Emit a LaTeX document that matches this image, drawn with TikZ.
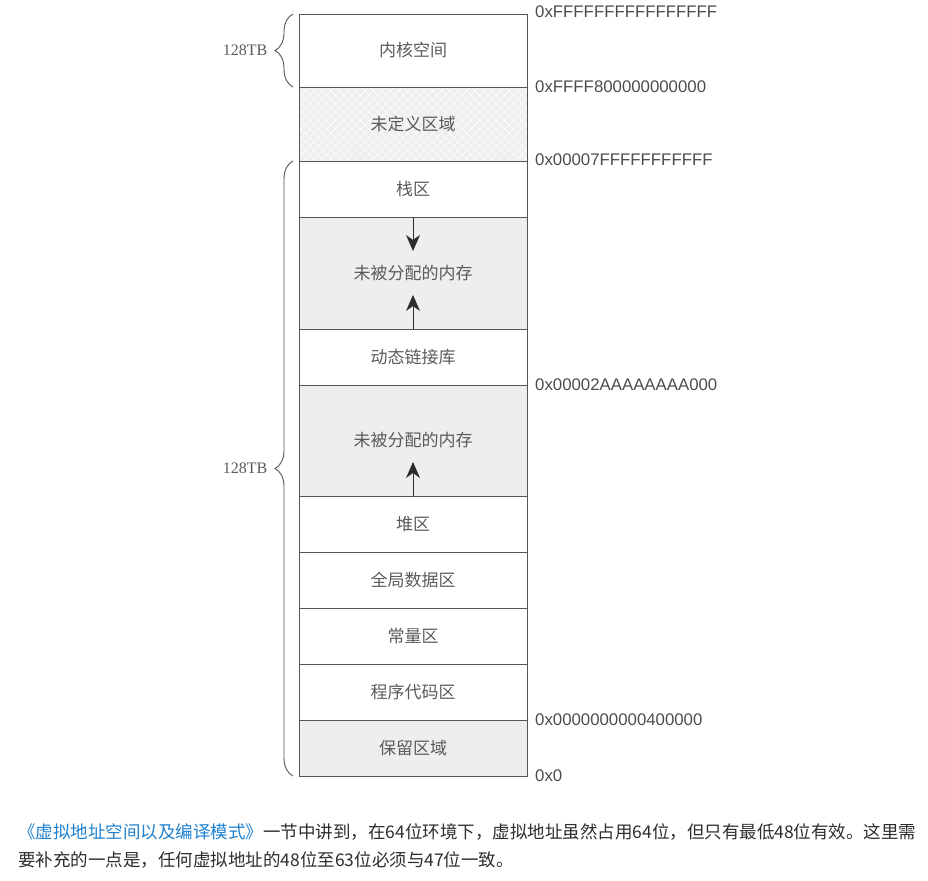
\documentclass[tikz,border=0pt]{standalone}
\usepackage{fontspec}
\setmainfont{Liberation Serif}
\setsansfont{Liberation Sans}
\newfontfamily\cjk{Noto Sans CJK SC}
\usetikzlibrary{positioning,arrows.meta,decorations.pathreplacing,patterns.meta}

\definecolor{linegray}{RGB}{85,85,85}
\definecolor{textgray}{RGB}{90,90,90}
\definecolor{freegray}{RGB}{238,238,238}
\definecolor{linkblue}{RGB}{30,128,205}
\definecolor{bodytext}{RGB}{45,45,45}

\tikzset{
  seg/.style={draw=linegray, line width=0.9pt, minimum width=228, minimum height=56,
    inner sep=0, outer sep=0, text=textgray, font=\cjk\fontsize{17}{20}\selectfont},
  freeseg/.style={seg, fill=freegray, minimum height=#1},
  addr/.style={anchor=west, text=bodytext!85, inner sep=0, font=\sffamily\fontsize{16.8}{18}\selectfont},
  sizelabel/.style={text=textgray, font=\fontsize{16}{18}\selectfont},
  spanbrace/.style={decorate, decoration={brace, amplitude=18pt, aspect=#1}, draw=linegray, line width=0.9pt},
  growarrow/.style={-{Stealth[length=16pt,width=14pt,inset=5pt]}, draw=bodytext, line width=0.9pt}
}

\begin{document}
\begin{tikzpicture}[x=1pt,y=-1pt]
\useasboundingbox (0,0) rectangle (928,880);

% memory column, top to bottom
\node[seg, minimum height=73, anchor=north west] (kernel) at (299,14) {内核空间};
\node[seg, minimum height=74, below=0pt of kernel] (undef) {};
\fill[freegray] (undef.north west) rectangle (undef.south east);
\fill[pattern={Lines[angle=45,distance=6pt,line width=0.5pt]}, pattern color=white] (undef.north west) rectangle (undef.south east);
\fill[pattern={Lines[angle=-45,distance=6pt,line width=0.5pt]}, pattern color=white] (undef.north west) rectangle (undef.south east);
\node[seg, minimum height=74, fill=none] at (undef) {未定义区域};
\node[seg, below=0pt of undef] (stack) {栈区};
\node[freeseg=112, below=0pt of stack] (free1) {未被分配的内存};
\node[seg, below=0pt of free1] (dll) {动态链接库};
\node[freeseg=111, below=0pt of dll] (free2) {未被分配的内存};
\node[seg, below=0pt of free2] (heap) {堆区};
\node[seg, below=0pt of heap] (data) {全局数据区};
\node[seg, below=0pt of data] (const) {常量区};
\node[seg, below=0pt of const] (code) {程序代码区};
\node[freeseg=56, below=0pt of code] (resv) {保留区域};

% growth arrows
\coordinate (stacktip) at ([yshift=-34]free1.north);
\coordinate (dlltip) at ([yshift=34]free1.south);
\coordinate (heaptip) at ([yshift=34]free2.south);
\draw[growarrow] (free1.north) -- (stacktip);
\draw[growarrow] (free1.south) -- (dlltip);
\draw[growarrow] (free2.south) -- (heaptip);

% addresses
\node[addr] (a1) at ([xshift=8,yshift=2]kernel.north east) {0xFFFFFFFFFFFFFFFF};
\node[addr] (a2) at ([xshift=8]kernel.south east) {0xFFFF800000000000};
\node[addr] (a3) at ([xshift=8,yshift=1]undef.south east) {0x00007FFFFFFFFFFF};
\node[addr] (a4) at ([xshift=8]dll.south east) {0x00002AAAAAAAA000};
\node[addr] (a5) at ([xshift=8]code.south east) {0x0000000000400000};
\node[addr] (a6) at ([xshift=8]resv.south east) {0x0};

% sizes
\coordinate (k1) at ([xshift=-6]kernel.north west);
\coordinate (k2) at ([xshift=-6]kernel.south west);
\coordinate (u1) at ([xshift=-6]stack.north west);
\coordinate (u2) at ([xshift=-6]resv.south west);
\draw[spanbrace=0.5] (k2) -- (k1) node[pos=0.5, left=22pt, sizelabel] (ksize) {128TB};
\draw[spanbrace=0.5] (u2) -- (u1) node[pos=0.5, left=22pt, sizelabel] (usize) {128TB};

% caption
\node[anchor=west, inner sep=0, font=\cjk\fontsize{17.5}{20}\selectfont, text=bodytext] (line1) at (18,832)
  {\textcolor{linkblue}{《虚拟地址空间以及编译模式》}一节中讲到，在64位环境下，虚拟地址虽然占用64位，但只有最低48位有效。这里需};
\node[anchor=west, inner sep=0, font=\cjk\fontsize{17.5}{20}\selectfont, text=bodytext] (line2) at (18,860)
  {要补充的一点是，任何虚拟地址的48位至63位必须与47位一致。};
\end{tikzpicture}
\end{document}
